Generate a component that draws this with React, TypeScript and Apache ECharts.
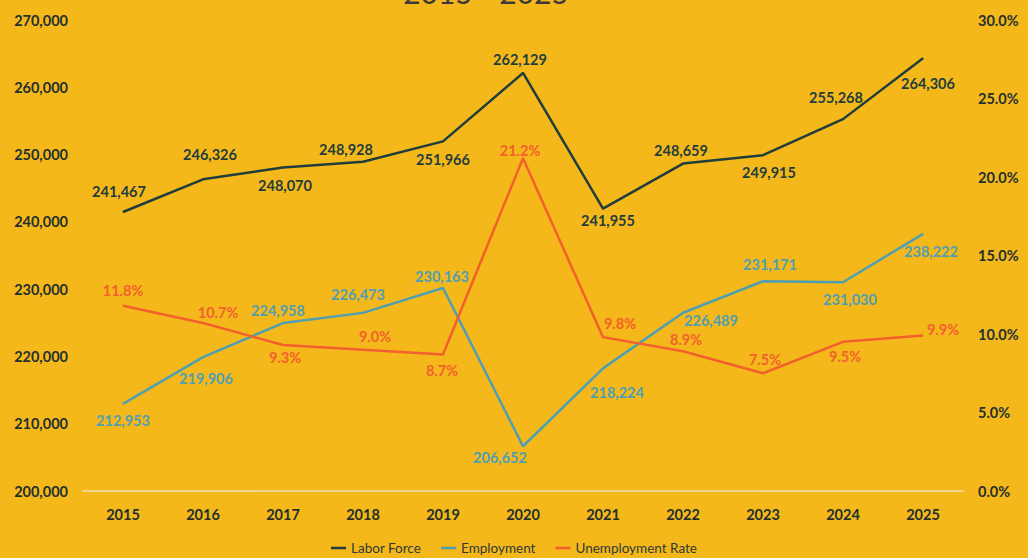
import React, { useEffect, useRef } from "react";
import * as echarts from "echarts";

const years = ["2015", "2016", "2017", "2018", "2019", "2020", "2021", "2022", "2023", "2024", "2025"];
const laborForce = [241467, 246326, 248070, 248928, 251966, 262129, 241955, 248659, 249915, 255268, 264306];
const employment = [212953, 219906, 224958, 226473, 230163, 206652, 218224, 226489, 231171, 231030, 238222];
const unemploymentRate = [11.8, 10.7, 9.3, 9.0, 8.7, 21.2, 9.8, 8.9, 7.5, 9.5, 9.9];

// label placement (style only): offsets of label centre from point, in px
const lfLabelOffsets = [[-4, -20], [7, -25], [2, 18], [-17, -12], [0, 18], [-3, -13], [5, 12], [-2, -13], [6, 17], [-7, -22], [5, 25]];
const empLabelOffsets = [[0, 17], [3, 21], [-5, -13], [-5, -18], [-1, -12], [-23, 11], [14, 24], [28, 8], [7, -17], [7, 17], [8, 18]];
const urLabelOffsets = [[0, -15], [15, -11], [2, 13], [12, -13], [-1, 16], [-3, -8], [17, -14], [3, -12], [2, -14], [2, 15], [20, -6]];

const BG = "#F5B81B";
const C_LF = "#1F3D3B";
const C_EMP = "#4F9FB2";
const C_UR = "#F2612B";
const FONT = "Lato, 'Open Sans', sans-serif";

function withLabels(values: number[], offsets: number[][]) {
  return values.map((v, i) => ({
    value: v,
    label: { offset: offsets[i] },
  }));
}

export default function App() {
  const ref = useRef<HTMLDivElement>(null);
  useEffect(() => {
    document.body.style.margin = "0";
    const chart = echarts.init(ref.current!, null, { renderer: "svg" });
    const fmtNum = (v: number) => Math.round(v).toLocaleString("en-US");
    const baseLabel = {
      show: true,
      position: "inside",
      fontFamily: FONT,
      fontWeight: "bold",
      fontSize: 14.5,
    };
    chart.setOption({
      animation: false,
      backgroundColor: BG,
      textStyle: { fontFamily: FONT },
      graphic: [
        {
          type: "text",
          x: 486,
          y: 7,
          style: {
            text: "2015 - 2025",
            fill: "#3A3A3A",
            font: "30px Lato, 'Open Sans', sans-serif",
            textAlign: "center",
            textVerticalAlign: "bottom",
          },
        },
      ],
      grid: { left: 83, right: 65, top: 20, bottom: 67, containLabel: false },
      legend: {
        left: "center",
        top: 536,
        icon: "rect",
        itemWidth: 15,
        itemHeight: 2.5,
        itemGap: 20,
        textStyle: { fontFamily: FONT, fontSize: 13.5, color: "#2E3A38" },
        data: ["Labor Force", "Employment", "Unemployment Rate"],
      },
      xAxis: {
        type: "category",
        data: years,
        boundaryGap: true,
        axisTick: { show: false },
        axisLine: { show: true, lineStyle: { color: "#EADFB4", width: 1.5 } },
        axisLabel: { margin: 16, color: "#1F302E", fontFamily: FONT, fontWeight: "bold", fontSize: 14.5 },
        splitLine: { show: false },
      },
      yAxis: [
        {
          type: "value",
          min: 200000,
          max: 270000,
          interval: 10000,
          axisLine: { show: false },
          axisTick: { show: false },
          splitLine: { show: false },
          axisLabel: {
            margin: 15,
            color: "#1F302E",
            fontFamily: FONT,
            fontWeight: "bold",
            fontSize: 14.5,
            formatter: (v: number) => fmtNum(v),
          },
        },
        {
          type: "value",
          min: 0,
          max: 30,
          interval: 5,
          position: "right",
          axisLine: { show: false },
          axisTick: { show: false },
          splitLine: { show: false },
          axisLabel: {
            margin: 15,
            color: "#1F302E",
            fontFamily: FONT,
            fontWeight: "bold",
            fontSize: 14.5,
            formatter: (v: number) => v.toFixed(1) + "%",
          },
        },
      ],
      series: [
        {
          name: "Labor Force",
          type: "line",
          yAxisIndex: 0,
          data: withLabels(laborForce, lfLabelOffsets),
          symbol: "circle",
          symbolSize: 1,
          showSymbol: true,
          itemStyle: { color: C_LF },
          lineStyle: { color: C_LF, width: 2.5 },
          label: { ...baseLabel, color: C_LF, formatter: (p: any) => fmtNum(p.value) },
        },
        {
          name: "Employment",
          type: "line",
          yAxisIndex: 0,
          data: withLabels(employment, empLabelOffsets),
          symbol: "circle",
          symbolSize: 1,
          showSymbol: true,
          itemStyle: { color: C_EMP },
          lineStyle: { color: C_EMP, width: 2.5 },
          label: { ...baseLabel, color: C_EMP, formatter: (p: any) => fmtNum(p.value) },
        },
        {
          name: "Unemployment Rate",
          type: "line",
          yAxisIndex: 1,
          data: withLabels(unemploymentRate, urLabelOffsets),
          symbol: "circle",
          symbolSize: 1,
          showSymbol: true,
          itemStyle: { color: C_UR },
          lineStyle: { color: C_UR, width: 2.5 },
          label: { ...baseLabel, color: C_UR, formatter: (p: any) => Number(p.value).toFixed(1) + "%" },
        },
      ],
    });
    return () => chart.dispose();
  }, []);
  return <div ref={ref} style={{ width: 1028, height: 558 }} />;
}
